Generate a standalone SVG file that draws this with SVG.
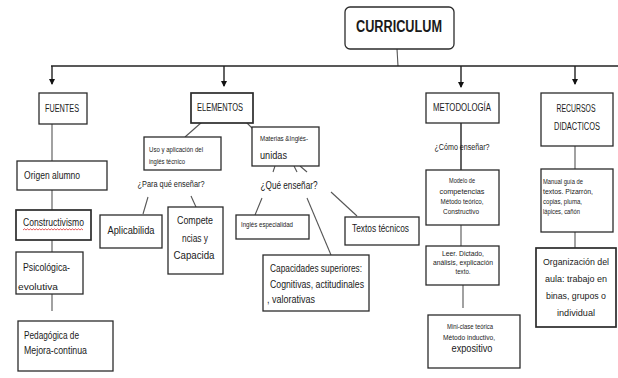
<svg xmlns="http://www.w3.org/2000/svg" width="618" height="378" viewBox="0 0 618 378">
<style>
.bx{fill:#fff;stroke:#2b2b2b;stroke-width:1.3}
.bx2{fill:#fff;stroke:#2b2b2b;stroke-width:1.7}
.ln{stroke:#555;stroke-width:1.1;fill:none}
.hl{stroke:#222;stroke-width:1.4;fill:none}
text{font-family:"Liberation Sans Narrow","Liberation Sans",Arial,sans-serif;fill:#1a1a1a;font-size:10px}
.s{font-size:7px}
.m{font-size:8.5px}
.c{text-anchor:middle}
.o{font-size:9.5px}
</style>
<defs>
<marker id="ah" viewBox="0 0 6 6" refX="5" refY="3" markerWidth="6" markerHeight="6" orient="auto" markerUnits="userSpaceOnUse">
<path d="M0,0 L6,3 L0,6 z" fill="#111"/>
</marker>
</defs>
<rect width="618" height="378" fill="#fff"/>
<g id="connectors">
<line class="ln" x1="397" y1="49" x2="398" y2="66"/>
<line class="hl" x1="51" y1="66" x2="618" y2="66"/>
<line class="hl" x1="52" y1="66" x2="52" y2="84" marker-end="url(#ah)"/>
<line class="hl" x1="224" y1="66" x2="224" y2="86" marker-end="url(#ah)"/>
<line class="hl" x1="461" y1="66" x2="461" y2="87" marker-end="url(#ah)"/>
<line class="hl" x1="575" y1="66" x2="575" y2="84" marker-end="url(#ah)"/>
<line class="ln" x1="52" y1="124" x2="52" y2="161"/>
<line class="ln" x1="52" y1="190" x2="52" y2="210"/>
<line class="ln" x1="52" y1="240" x2="52" y2="252"/>
<line class="ln" x1="52" y1="294" x2="52" y2="311"/>
<line class="ln" x1="202" y1="122" x2="185" y2="137"/>
<line class="ln" x1="246" y1="122" x2="253" y2="129"/>
<line class="ln" x1="148" y1="197" x2="143" y2="214"/>
<line class="ln" x1="191" y1="196" x2="196" y2="207"/>
<line class="ln" x1="275" y1="166" x2="273" y2="172"/>
<line class="ln" x1="294" y1="166" x2="297" y2="172"/>
<line class="ln" x1="300" y1="166" x2="307" y2="172"/>
<line class="ln" x1="262" y1="198" x2="255" y2="215"/>
<line class="ln" x1="307" y1="198" x2="331" y2="255"/>
<line class="ln" x1="331" y1="192" x2="357" y2="216"/>
<line class="hl" x1="461" y1="123" x2="461" y2="170"/>
<line class="ln" x1="461" y1="225" x2="461" y2="246"/>
<line class="ln" x1="463" y1="282" x2="463" y2="308"/>
<line class="ln" x1="575" y1="146" x2="575" y2="169"/>
<line class="ln" x1="575" y1="232" x2="575" y2="248"/>
</g>
<g id="curriculum">
<rect x="345" y="7" width="109" height="42" rx="5" class="bx"/>
<text x="399" y="32" class="c" style="font-size:16px;font-weight:bold" textLength="86" lengthAdjust="spacingAndGlyphs">CURRICULUM</text>
</g>
<g id="fuentes">
<rect x="39" y="93" width="48" height="31" class="bx"/>
<text x="62" y="112" class="c" textLength="34" lengthAdjust="spacingAndGlyphs">FUENTES</text>
</g>
<g id="elementos">
<rect x="191" y="93" width="62" height="30" class="bx2"/>
<text x="220" y="111" class="c" textLength="46" lengthAdjust="spacingAndGlyphs">ELEMENTOS</text>
</g>
<g id="metodologia">
<rect x="426" y="93" width="73" height="30" class="bx"/>
<text x="462" y="111" class="c" textLength="58" lengthAdjust="spacingAndGlyphs">METODOLOGÍA</text>
</g>
<g id="recursos">
<rect x="541" y="93" width="72" height="53" class="bx"/>
<text x="576" y="112" class="c" textLength="39" lengthAdjust="spacingAndGlyphs">RECURSOS</text>
<text x="577" y="130" class="c" textLength="46" lengthAdjust="spacingAndGlyphs">DIDACTICOS</text>
</g>
<g id="origen">
<rect x="17" y="161" width="90" height="29" class="bx"/>
<text x="24" y="179" textLength="56" lengthAdjust="spacingAndGlyphs">Origen alumno</text>
</g>
<g id="constructivismo">
<rect x="16" y="210" width="75" height="30" class="bx2"/>
<text x="23" y="226" textLength="61" lengthAdjust="spacingAndGlyphs">Constructivismo</text>
<path d="M23,230 l1.5,-1.2 l1.5,1.2 l1.5,-1.2 l1.5,1.2 l1.5,-1.2 l1.5,1.2 l1.5,-1.2 l1.5,1.2 l1.5,-1.2 l1.5,1.2 l1.5,-1.2 l1.5,1.2 l1.5,-1.2 l1.5,1.2 l1.5,-1.2 l1.5,1.2 l1.5,-1.2 l1.5,1.2 l1.5,-1.2 l1.5,1.2 l1.5,-1.2 l1.5,1.2 l1.5,-1.2 l1.5,1.2 l1.5,-1.2 l1.5,1.2 l1.5,-1.2 l1.5,1.2 l1.5,-1.2 l1.5,1.2 l1.5,-1.2 l1.5,1.2 l1.5,-1.2 l1.5,1.2 l1.5,-1.2 l1.5,1.2 l1.5,-1.2 l1.5,1.2 l1.5,-1.2 l1.5,1.2" fill="none" stroke="#e03030" stroke-width="0.8"/>
</g>
<g id="psicologica">
<rect x="16" y="252" width="67" height="42" class="bx"/>
<text x="23" y="271" textLength="47" lengthAdjust="spacingAndGlyphs">Psicológica-</text>
<text x="18" y="290" class="m" textLength="40" lengthAdjust="spacingAndGlyphs" fill="#444">evolutiva</text>
</g>
<g id="pedagogica">
<rect x="18" y="321" width="95" height="50" class="bx"/>
<text x="24" y="339" textLength="55" lengthAdjust="spacingAndGlyphs">Pedagógica de</text>
<text x="24" y="354" textLength="63" lengthAdjust="spacingAndGlyphs">Mejora-continua</text>
</g>
<g id="uso">
<rect x="144" y="137" width="77" height="33" class="bx"/>
<text x="149" y="152" class="s" textLength="54" lengthAdjust="spacingAndGlyphs">Uso y aplicación del</text>
<text x="149" y="164" class="s" textLength="36" lengthAdjust="spacingAndGlyphs">inglés técnico</text>
</g>
<text x="171" y="187" class="c m" textLength="67" lengthAdjust="spacingAndGlyphs">¿Para qué enseñar?</text>
<g id="aplicabilida">
<rect x="100" y="215" width="62" height="33" class="bx"/>
<text x="131" y="234" class="c" textLength="47" lengthAdjust="spacingAndGlyphs">Aplicabilida</text>
</g>
<g id="competencias">
<rect x="168" y="207" width="55" height="67" class="bx"/>
<text x="195" y="224" class="c" textLength="36" lengthAdjust="spacingAndGlyphs">Compete</text>
<text x="195" y="242" class="c" textLength="26" lengthAdjust="spacingAndGlyphs">ncias y</text>
<text x="194" y="259" class="c" textLength="41" lengthAdjust="spacingAndGlyphs">Capacida</text>
</g>
<g id="materias">
<rect x="252" y="127" width="67" height="39" class="bx"/>
<text x="260" y="141" class="s" textLength="48" lengthAdjust="spacingAndGlyphs">Materias &amp;Inglés-</text>
<text x="260" y="159" textLength="27" lengthAdjust="spacingAndGlyphs">unidas</text>
</g>
<text x="289" y="189" class="c" textLength="57" lengthAdjust="spacingAndGlyphs">¿Qué enseñar?</text>
<g id="ingles">
<rect x="236" y="215" width="73" height="24" class="bx"/>
<text x="241" y="227" class="s" textLength="52" lengthAdjust="spacingAndGlyphs">Inglés especialidad</text>
</g>
<g id="textos">
<rect x="345" y="217" width="74" height="28" class="bx"/>
<text x="352" y="232" textLength="57" lengthAdjust="spacingAndGlyphs">Textos técnicos</text>
</g>
<g id="capacidades">
<rect x="263" y="255" width="106" height="56" class="bx"/>
<text x="270" y="272" textLength="92" lengthAdjust="spacingAndGlyphs">Capacidades superiores:</text>
<text x="270" y="288" textLength="94" lengthAdjust="spacingAndGlyphs">Cognitivas, actitudinales</text>
<text x="267" y="303" textLength="48" lengthAdjust="spacingAndGlyphs">, valorativas</text>
</g>
<text x="462" y="150" class="c m" textLength="55" lengthAdjust="spacingAndGlyphs">¿Cómo enseñar?</text>
<g id="modelo">
<rect x="426" y="170" width="73" height="55" class="bx"/>
<text x="462" y="183" class="c s" textLength="26" lengthAdjust="spacingAndGlyphs">Modelo de</text>
<text x="462" y="194" class="c s" textLength="45" lengthAdjust="spacingAndGlyphs">competencias</text>
<text x="462" y="204" class="c s" textLength="43" lengthAdjust="spacingAndGlyphs">Método teórico,</text>
<text x="461" y="214" class="c s" textLength="36" lengthAdjust="spacingAndGlyphs">Constructivo</text>
</g>
<g id="leer">
<rect x="426" y="246" width="73" height="39" class="bx"/>
<text x="463" y="256" class="c s" textLength="42" lengthAdjust="spacingAndGlyphs">Leer. Dictado,</text>
<text x="463" y="265" class="c s" textLength="60" lengthAdjust="spacingAndGlyphs">análisis, explicación</text>
<text x="463" y="274" class="c s" textLength="15" lengthAdjust="spacingAndGlyphs">texto.</text>
</g>
<g id="miniclase">
<rect x="428" y="315" width="92" height="53" class="bx"/>
<text x="470" y="329" class="c s" textLength="46" lengthAdjust="spacingAndGlyphs">Mini-clase teórica</text>
<text x="469" y="340" class="c s" textLength="52" lengthAdjust="spacingAndGlyphs">Método inductivo,</text>
<text x="472" y="352" class="c" textLength="41" lengthAdjust="spacingAndGlyphs">expositivo</text>
</g>
<g id="manual">
<rect x="541" y="169" width="72" height="63" class="bx"/>
<text x="543" y="184" class="s" textLength="40" lengthAdjust="spacingAndGlyphs">Manual guía de</text>
<text x="543" y="194" class="s" textLength="50" lengthAdjust="spacingAndGlyphs">textos. Pizarrón,</text>
<text x="543" y="204" class="s" textLength="39" lengthAdjust="spacingAndGlyphs">copias, pluma,</text>
<text x="543" y="214" class="s" textLength="37" lengthAdjust="spacingAndGlyphs">lápices, cañón</text>
</g>
<g id="organizacion">
<rect x="536" y="248" width="80" height="79" class="bx2"/>
<text x="576" y="265" class="c o" textLength="66" lengthAdjust="spacingAndGlyphs">Organización del</text>
<text x="576" y="282" class="c o" textLength="62" lengthAdjust="spacingAndGlyphs">aula: trabajo en</text>
<text x="576" y="299" class="c o" textLength="60" lengthAdjust="spacingAndGlyphs">binas, grupos o</text>
<text x="576" y="316" class="c o" textLength="38" lengthAdjust="spacingAndGlyphs">individual</text>
</g>
</svg>
